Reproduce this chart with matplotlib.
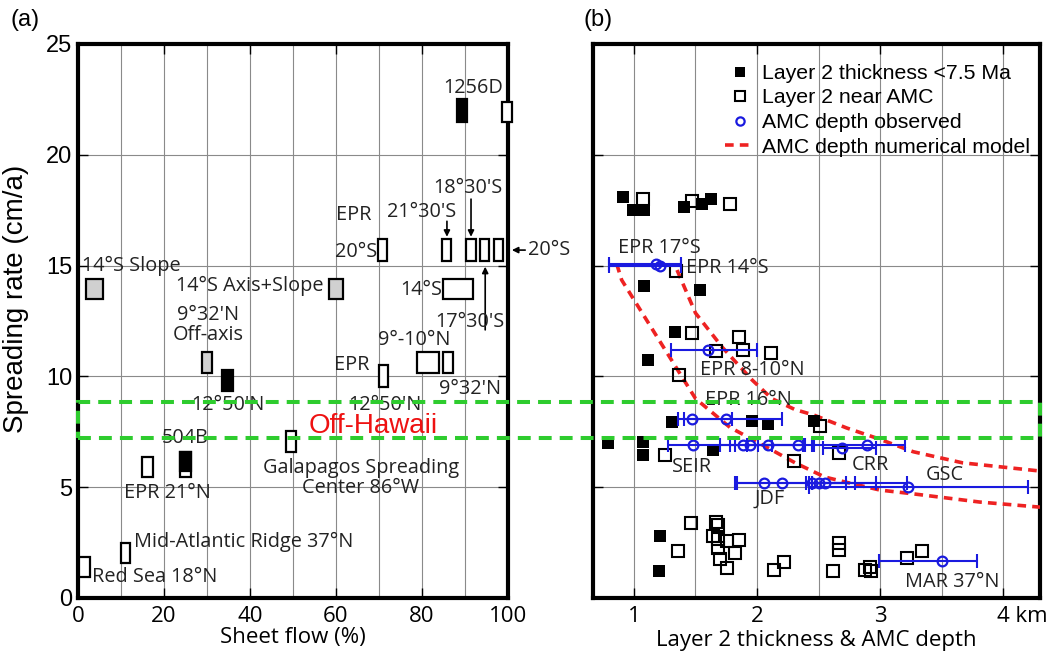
import matplotlib
matplotlib.use("Agg")
import matplotlib.pyplot as plt
import matplotlib.transforms as mtransforms
from matplotlib.patches import Rectangle
import numpy as np

# ---------------- panel (a): sheet flow vs spreading rate ----------------
box_left = [88.1, 98.6, 69.8, 84.6, 90.2, 93.5, 96.7, 84.9, 1.8, 58.4, 28.8, 33.4,
            69.9, 78.8, 84.9, 23.7, 23.7, 14.9, 48.3, 10.0, 0.2]
box_right = [90.5, 101.0, 71.9, 86.7, 92.6, 95.6, 98.8, 91.9, 5.8, 61.7, 31.1, 36.0,
             72.2, 84.0, 87.3, 26.3, 26.3, 17.4, 50.6, 12.1, 2.8]
box_bottom = [21.5, 21.5, 15.2, 15.2, 15.2, 15.2, 15.2, 13.5, 13.5, 13.5, 10.15, 9.35,
              9.5, 10.15, 10.15, 5.45, 5.75, 5.45, 6.6, 1.6, 0.95]
box_top = [22.5, 22.4, 16.2, 16.2, 16.2, 16.2, 16.2, 14.4, 14.4, 14.4, 11.1, 10.3,
           10.5, 11.1, 11.1, 6.6, 6.6, 6.35, 7.55, 2.5, 1.85]
box_fill = ["black", "white", "white", "white", "white", "white", "white", "white",
            "#d0d0d0", "#d0d0d0", "#d0d0d0", "black", "white", "white", "white",
            "white", "black", "white", "white", "white", "white"]

# label text, x, y, horizontal alignment
labels_a = [
    ("1256D", 91.9, 23.0, "center"),
    ("18°30'S", 90.7, 18.5, "center"),
    ("EPR", 64.2, 17.3, "center"),
    ("21°30'S", 80.0, 17.4, "center"),
    ("20°S", 69.5, 15.6, "right"),
    ("14°S Slope", 0.9, 15.0, "left"),
    ("14°S Axis+Slope", 57.2, 14.1, "right"),
    ("14°S", 84.7, 13.9, "right"),
    ("17°30'S", 91.2, 12.45, "center"),
    ("9°32'N\nOff-axis", 30.2, 12.3, "center"),
    ("9°-10°N", 78.1, 11.65, "center"),
    ("EPR", 63.7, 10.5, "center"),
    ("9°32'N", 91.2, 9.43, "center"),
    ("12°50'N", 34.9, 8.7, "center"),
    ("12°50'N", 71.4, 8.7, "center"),
    ("504B", 24.9, 7.2, "center"),
    ("Galapagos Spreading\nCenter 86°W", 65.8, 5.4, "center"),
    ("EPR 21°N", 20.9, 4.75, "center"),
    ("Mid-Atlantic Ridge 37°N", 13.0, 2.53, "left"),
    ("Red Sea 18°N", 3.3, 0.95, "left"),
]

# arrows: (tail x, tail y, head x, head y)
arrows_a = [
    (85.8, 17.0, 85.8, 16.3),
    (91.4, 18.0, 91.4, 16.3),
    (94.7, 12.1, 94.7, 14.95),
    (104.0, 15.7, 100.9, 15.7),
]

band_lo, band_hi = 7.2, 8.85

# ---------------- panel (b): layer 2 thickness & AMC depth ----------------
young_x = [0.91, 0.99, 1.08, 1.41, 1.55, 1.63, 1.08, 1.54, 1.33, 1.11,
           1.31, 1.96, 2.09, 2.46, 0.79, 1.07, 1.07, 1.64, 1.21, 1.20]
young_y = [18.1, 17.5, 17.5, 17.65, 17.8, 18.0, 14.1, 13.9, 12.0, 10.74,
           7.95, 8.0, 7.85, 8.0, 7.0, 7.05, 6.45, 6.7, 2.8, 1.22]

amc_x = [1.07, 1.47, 1.78, 1.34, 1.47, 1.85, 1.67, 1.89, 2.11, 1.37,
         2.51, 1.25, 2.30, 2.67,
         1.46, 1.36, 1.67, 1.68, 1.64, 1.68, 1.76, 1.85, 1.68, 1.82, 1.70,
         1.76, 2.14, 2.22, 2.67, 2.67, 2.62, 2.88, 2.92, 2.93, 3.22, 3.34]
amc_y = [18.0, 17.9, 17.8, 14.76, 11.95, 11.8, 11.15, 11.2, 11.05, 10.06,
         7.75, 6.45, 6.2, 6.55,
         3.4, 2.1, 3.45, 3.3, 2.8, 2.65, 2.55, 2.6, 2.25, 2.05, 1.75,
         1.37, 1.27, 1.63, 2.5, 2.15, 1.2, 1.27, 1.4, 1.22, 1.8, 2.1]

obs_x = [1.18, 1.21, 1.60, 1.47, 1.75, 1.48, 1.89, 1.94, 2.09, 2.33, 2.69, 2.89,
         2.06, 2.20, 2.45, 2.50, 2.55, 3.23, 3.50]
obs_y = [15.07, 15.0, 11.2, 8.1, 8.1, 6.9, 6.9, 6.9, 6.9, 6.9, 6.77, 6.9,
         5.2, 5.2, 5.2, 5.2, 5.2, 5.0, 1.67]
obs_lo = [0.80, 0.80, 1.30, 1.36, 1.41, 1.28, 1.70, 1.78, 1.92, 2.01, 2.54, 2.46,
          1.82, 1.84, 2.42, 2.40, 2.45, 2.42, 2.99]
obs_hi = [1.38, 1.38, 2.00, 1.80, 2.20, 1.82, 2.12, 2.37, 2.39, 2.45, 2.97, 3.20,
          2.45, 2.72, 2.97, 3.22, 2.80, 4.20, 3.79]

model1_x = [0.86, 0.90, 1.50, 1.78, 2.09, 2.31, 2.55, 2.72, 3.00, 3.27, 3.81, 4.30]
model1_y = [15.07, 14.35, 9.0, 7.7, 6.77, 6.1, 5.46, 5.23, 4.87, 4.7, 4.33, 4.1]
model2_x = [1.35, 1.50, 1.72, 1.96, 2.12, 2.31, 2.46, 2.73, 2.98, 3.27, 3.67, 4.30]
model2_y = [14.8, 12.86, 11.3, 9.84, 9.0, 8.5, 8.26, 7.67, 7.2, 6.6, 6.1, 5.73]

labels_b = [
    ("EPR 17°S", 0.87, 15.8),
    ("EPR 14°S", 1.42, 14.9),
    ("EPR 8-10°N", 1.54, 10.3),
    ("EPR 16°N", 1.58, 8.95),
    ("SEIR", 1.31, 5.9),
    ("CRR", 2.77, 6.0),
    ("GSC", 3.37, 5.55),
    ("JDF", 1.98, 4.47),
    ("MAR 37°N", 3.20, 0.72),
]

ANN = "Open Sans"
TICK = "Liberation Sans"
ann_kw = dict(fontsize=14.3, family=ANN, color="#222222", va="center")

fig = plt.figure(figsize=(10.53, 6.57), dpi=100)
ax_a = fig.add_axes([78 / 1053, 59 / 657, 430 / 1053, 554 / 657])
ax_b = fig.add_axes([593 / 1053, 59 / 657, 447 / 1053, 554 / 657])

for ax in (ax_a, ax_b):
    for sp in ax.spines.values():
        sp.set_linewidth(3.0)
    ax.set_ylim(0, 25)
    ax.tick_params(direction="in", length=7, width=1, top=True, right=True)
    ax.grid(True, which="both", color="#8a8a8a", lw=0.8)
    ax.set_axisbelow(True)

# panel (a)
ax_a.set_xlim(0, 100)
ax_a.set_xticks([0, 20, 40, 60, 80, 100])
ax_a.set_xticks(np.arange(10, 100, 20), minor=True)
ax_a.tick_params(which="minor", length=0)
ax_a.set_yticks([0, 5, 10, 15, 20, 25])
for lab in ax_a.get_xticklabels():
    lab.set_fontfamily(ANN)
    lab.set_fontsize(16)
for lab in ax_a.get_yticklabels():
    lab.set_fontfamily(TICK)
    lab.set_fontsize(17)
ax_a.tick_params(axis="x", pad=6)
ax_a.tick_params(axis="y", pad=4)
ax_a.set_xlabel("Sheet flow (%)", fontsize=16, family=ANN, labelpad=0)
ax_a.set_ylabel("Spreading rate (cm/a)", fontsize=20, family=TICK)
ax_a.yaxis.set_label_coords(-0.115, 0.54)

for x0, x1, y0, y1, fc in zip(box_left, box_right, box_bottom, box_top, box_fill):
    ax_a.add_patch(Rectangle((x0, y0), x1 - x0, y1 - y0, facecolor=fc,
                             edgecolor="black", lw=1.6, zorder=4, clip_on=False))

for txt, x, y, ha in labels_a:
    ax_a.text(x, y, txt, ha=ha, linespacing=1.0, zorder=5, **ann_kw)

for x0, y0, x1, y1 in arrows_a:
    ax_a.annotate("", xy=(x1, y1), xytext=(x0, y0), annotation_clip=False,
                  arrowprops=dict(arrowstyle="-|>", color="black", lw=1.2,
                                  mutation_scale=9, shrinkA=0, shrinkB=0))
ax_a.text(104.6, 15.7, "20°S", ha="left", clip_on=False, **ann_kw)

ax_a.text(68.6, 7.75, "Off-Hawaii", ha="center", va="center", fontsize=20,
          family=TICK, color="#ee1111", zorder=6)

# panel (b)
ax_b.set_xlim(0.667, 4.30)
ax_b.set_xticks([1, 2, 3, 4])
ax_b.set_xticks([1.5, 2.5, 3.5], minor=True)
ax_b.set_xticklabels(["1", "2", "3", "4 km"], fontsize=16, family=ANN)
ax_b.tick_params(which="minor", length=0)
ax_b.tick_params(axis="x", pad=6)
ax_b.set_yticks([0, 5, 10, 15, 20, 25])
ax_b.set_yticklabels([])
last = ax_b.get_xticklabels()[-1]
last.set_horizontalalignment("left")
last.set_transform(last.get_transform()
                   + mtransforms.ScaledTranslation(-6 / 100, 0, fig.dpi_scale_trans))
ax_b.set_xlabel("Layer 2 thickness & AMC depth", fontsize=16, family=ANN, labelpad=2)

ax_b.plot(model1_x, model1_y, color="#ee2222", lw=2.6, ls=(0, (2.4, 1.7)),
          label="AMC depth numerical model", zorder=3)
ax_b.plot(model2_x, model2_y, color="#ee2222", lw=2.6, ls=(0, (2.4, 1.7)), zorder=3)

ax_b.plot(young_x, young_y, "s", color="black", ms=8, mew=0,
          label="Layer 2 thickness <7.5 Ma", zorder=4)
ax_b.plot(amc_x, amc_y, "s", mfc="none", mec="black", ms=8, mew=1.5,
          label="Layer 2 near AMC", zorder=4)

obs_x_arr = np.array(obs_x)
xerr = [obs_x_arr - np.array(obs_lo), np.array(obs_hi) - obs_x_arr]
ax_b.errorbar(obs_x, obs_y, xerr=xerr, fmt="none", ecolor="#1a1adf", elinewidth=1.5,
              capsize=5, capthick=1.5, zorder=5)
ax_b.plot(obs_x, obs_y, "o", mfc="none", mec="#1a1adf", ms=7, mew=1.6,
          label="AMC depth observed", zorder=6)

for txt, x, y in labels_b:
    ax_b.text(x, y, txt, ha="left", zorder=7, **ann_kw)

h, l = ax_b.get_legend_handles_labels()
order = [1, 2, 3, 0]
ax_b.legend([h[i] for i in order], [l[i] for i in order], loc="upper left",
            bbox_to_anchor=(0.296, 0.964), frameon=False, borderpad=0,
            borderaxespad=0, labelspacing=0.26, handlelength=1.35,
            handletextpad=0.4, markerscale=0.85,
            prop={"family": TICK, "size": 15.3})

# Off-Hawaii band across both panels
blend = mtransforms.blended_transform_factory(fig.transFigure, ax_a.transData)
x_left = ax_a.get_position().x0
x_right = ax_b.get_position().x1
fig.add_artist(Rectangle((x_left, band_lo), x_right - x_left, band_hi - band_lo,
                         transform=blend, fill=False, edgecolor="#2ecc2e", lw=2.9,
                         ls=(0, (3.2, 2.0)), zorder=10, clip_on=False))

fig.text(25 / 1053, 1 - 20 / 657, "(a)", fontsize=17, family=TICK, ha="center", va="center")
fig.text(598 / 1053, 1 - 20 / 657, "(b)", fontsize=17, family=TICK, ha="center", va="center")

fig.savefig("out.png", dpi=100)
